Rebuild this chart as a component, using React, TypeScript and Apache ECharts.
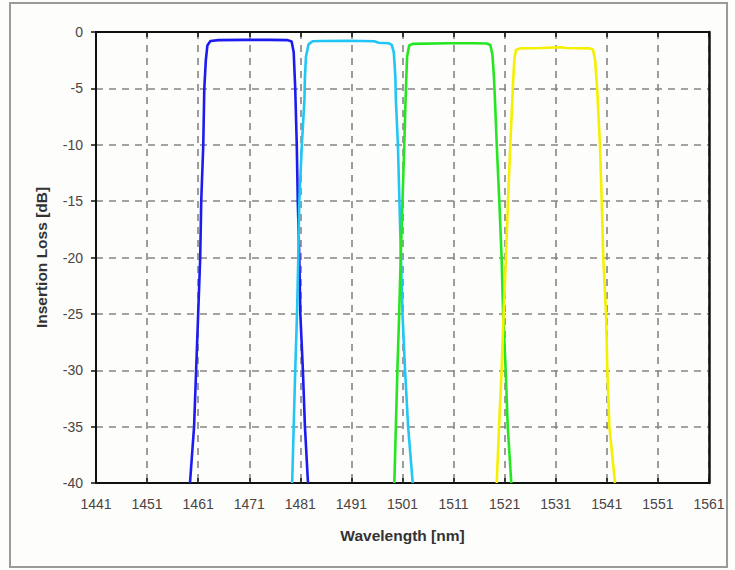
import React, { useEffect, useRef } from "react";
import * as echarts from "echarts";

// Wavelength axis (nm) and insertion-loss axis (dB)
const xMin = 1441;
const xMax = 1561;
const xStep = 10;
const yMin = -40;
const yMax = 0;
const yStep = 5;

const seriesNames = ["Ch1", "Ch2", "Ch3", "Ch4"];
const seriesColors = ["#1c1cf0", "#22c6f6", "#26e622", "#f4f000"];

const ch1: [number, number][] = [
  [1459.4, -40], [1460.2, -35], [1460.6, -30], [1461.0, -25], [1461.4, -20],
  [1461.6, -15], [1462.0, -10], [1462.2, -5], [1462.5, -2.5], [1462.8, -1.2],
  [1463.4, -0.8], [1465, -0.72], [1470, -0.7], [1475, -0.7], [1478.5, -0.72],
  [1479.3, -0.85], [1479.7, -1.8], [1480.0, -5], [1480.3, -10], [1480.5, -15],
  [1480.8, -20], [1481.0, -25], [1481.5, -30], [1481.9, -35], [1482.5, -40],
];

const ch2: [number, number][] = [
  [1479.4, -40], [1479.7, -35], [1480.0, -30], [1480.35, -25], [1480.6, -20],
  [1480.8, -15], [1481.3, -10], [1481.8, -6], [1481.9, -4], [1482.1, -2.2],
  [1482.6, -1.1], [1483.4, -0.82], [1485, -0.8], [1490, -0.78], [1493, -0.8],
  [1495.5, -0.82], [1496.3, -0.95], [1498.3, -1.0], [1498.9, -1.15], [1499.3, -1.8],
  [1499.6, -4], [1499.7, -6], [1500.1, -10], [1500.4, -15], [1500.7, -20],
  [1501.0, -25], [1501.5, -30], [1502.1, -35], [1503.0, -40],
];

const ch3: [number, number][] = [
  [1499.4, -40], [1499.7, -35], [1500.0, -30], [1500.35, -25], [1500.65, -20],
  [1501.0, -15], [1501.35, -10], [1501.6, -6], [1501.75, -4], [1501.9, -2.2],
  [1502.3, -1.2], [1503, -1.05], [1510, -1.0], [1515, -1.0], [1517.5, -1.02],
  [1518.2, -1.15], [1518.6, -2], [1518.9, -4], [1519.1, -6], [1519.45, -10],
  [1519.95, -15], [1520.4, -20], [1520.7, -25], [1521.2, -30], [1521.6, -35],
  [1522.3, -40],
];

const ch4: [number, number][] = [
  [1519.45, -40], [1519.9, -35], [1520.4, -30], [1520.8, -25], [1521.25, -20],
  [1521.65, -15], [1522.1, -10], [1522.5, -6], [1522.7, -4], [1522.9, -2.4],
  [1523.2, -1.6], [1524, -1.45], [1528, -1.42], [1532, -1.35], [1533, -1.42],
  [1537.5, -1.45], [1538.3, -1.55], [1538.7, -2.5], [1539.1, -5], [1539.65, -10],
  [1540.0, -15], [1540.3, -20], [1540.85, -25], [1541.1, -30], [1541.5, -35],
  [1542.6, -40],
];

const allData = [ch1, ch2, ch3, ch4];

const FONT = "'Liberation Sans', Arial, sans-serif";

export default function App() {
  const ref = useRef<HTMLDivElement>(null);

  useEffect(() => {
    document.body.style.margin = "0";
    if (!ref.current) return;
    const chart = echarts.init(ref.current, undefined, { renderer: "svg" });

    const gridLine = {
      show: true,
      lineStyle: { color: "#858585", width: 1.6, type: [7, 6] as number[] },
    };

    chart.setOption({
      animation: false,
      backgroundColor: "#fdfdfb",
      textStyle: { fontFamily: FONT },
      graphic: [
        {
          type: "rect",
          shape: { x: 10, y: 3, width: 717, height: 564 },
          style: { fill: "#fdfdfb", stroke: "#9a9a9a", lineWidth: 2 },
          z: -10,
          silent: true,
        },
      ],
      grid: { left: 96, right: 26, top: 32, bottom: 87, containLabel: false },
      xAxis: [
        {
          type: "value",
          min: xMin,
          max: xMax,
          interval: xStep,
          position: "bottom",
          name: "Wavelength [nm]",
          nameLocation: "middle",
          nameGap: 44,
          nameTextStyle: { fontSize: 15.5, fontWeight: "bold", color: "#333", fontFamily: FONT },
          axisLine: { show: true, onZero: false, lineStyle: { color: "#111", width: 2 } },
          axisTick: { show: true, inside: true, length: 5, lineStyle: { color: "#111", width: 1.5 } },
          axisLabel: {
            fontSize: 14,
            color: "#4a4444",
            margin: 14,
            fontFamily: FONT,
            formatter: (v: number) => String(v),
          },
          splitLine: gridLine,
        },
        {
          type: "value",
          min: xMin,
          max: xMax,
          interval: xStep,
          position: "top",
          axisLine: { show: true, onZero: false, lineStyle: { color: "#111", width: 2 } },
          axisTick: { show: true, inside: true, length: 5, lineStyle: { color: "#111", width: 1.5 } },
          axisLabel: { show: false },
          splitLine: { show: false },
        },
      ],
      yAxis: [
        {
          type: "value",
          min: yMin,
          max: yMax,
          interval: yStep,
          position: "left",
          name: "Insertion Loss [dB]",
          nameLocation: "middle",
          nameGap: 47,
          nameTextStyle: { fontSize: 15.5, fontWeight: "bold", color: "#333", fontFamily: FONT },
          axisLine: { show: true, onZero: false, lineStyle: { color: "#111", width: 2 } },
          axisTick: { show: true, inside: false, length: 5, lineStyle: { color: "#111", width: 1.5 } },
          axisLabel: {
            fontSize: 14,
            color: "#4a4444",
            margin: 13,
            fontFamily: FONT,
            formatter: (v: number) => String(v),
          },
          splitLine: gridLine,
        },
        {
          type: "value",
          min: yMin,
          max: yMax,
          interval: yStep,
          position: "right",
          axisLine: { show: true, onZero: false, lineStyle: { color: "#111", width: 2.5 } },
          axisTick: { show: false },
          axisLabel: { show: false },
          splitLine: { show: false },
        },
      ],
      series: allData.map((d, i) => ({
        name: seriesNames[i],
        type: "line",
        data: d,
        xAxisIndex: 0,
        yAxisIndex: 0,
        showSymbol: false,
        symbol: "none",
        smooth: false,
        lineStyle: { color: seriesColors[i], width: 2.6 },
        itemStyle: { color: seriesColors[i] },
        z: 3,
      })),
    });

    return () => chart.dispose();
  }, []);

  return (
    <div
      ref={ref}
      style={{ position: "absolute", left: 0, top: 0, width: 735, height: 570 }}
    />
  );
}
